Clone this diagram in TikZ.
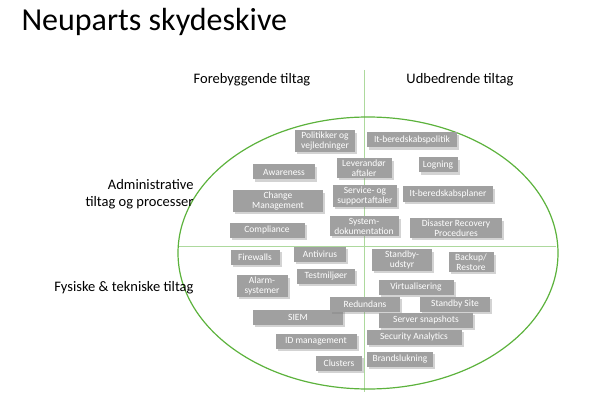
\documentclass[tikz,border=0pt]{standalone}
\usepackage{fontspec}
\setmainfont{Carlito}
\usetikzlibrary{shadows}
\definecolor{ringgreen}{RGB}{92,178,60}
\definecolor{boxgray}{RGB}{160,160,160}
\begin{document}
\begin{tikzpicture}[x=1pt,y=-1pt,
            tag/.style={fill=boxgray,text=white,font=\fontsize{9.5}{10}\selectfont,
              align=center,inner sep=1.5pt,minimum height=15pt,drop shadow={opacity=0.35}},
            axis/.style={draw=ringgreen!50,line width=0.8pt},
            head/.style={font=\fontsize{14.5}{17}\selectfont},
            ]
            \useasboundingbox (0,0) rectangle (600,409);
            \node[anchor=west,font=\fontsize{32}{34}\selectfont] (title) at (18,22) {Neuparts skydeskive};
            % quadrant lines and ring
            \coordinate (top) at (364,70);
            \coordinate (bot) at (364,392);
            \coordinate (lft) at (178,246);
            \coordinate (rgt) at (556,246);
            \draw[axis] (top) -- (bot);
            \draw[axis] (lft) -- (rgt);
            \draw[ringgreen,line width=1.2pt] (368,253) ellipse (190 and 136);
            % headings
            \node[head] (prev) at (252,80) {Forebyggende tiltag};
            \node[head] (corr) at (460,80) {Udbedrende tiltag};
            \node[head,align=right,anchor=east] (adm) at (197,194) {Administrative\\tiltag og processer};
            \node[head,anchor=east] (phys) at (197,288) {Fysiske \& tekniske tiltag};
            % administrative
            \node[tag,minimum width=60pt] (pol) at (325,141) {Politikker og\\vejledninger};
            \node[tag,minimum width=90pt] (itpol) at (412,140) {It-beredskabspolitik};
            \node[tag,minimum width=55pt] (lev) at (364,168) {Leverandør\\aftaler};
            \node[tag,minimum width=39pt] (log) at (438,165) {Logning};
            \node[tag,minimum width=62pt] (aware) at (284,172) {Awareness};
            \node[tag,minimum width=90pt] (change) at (278,201) {Change\\Management};
            \node[tag,minimum width=64pt] (serv) at (365,196) {Service- og\\supportaftaler};
            \node[tag,minimum width=90pt] (itplan) at (448,194) {It-beredskabsplaner};
            \node[tag,minimum width=75pt] (comp) at (267,230) {Compliance};
            \node[tag,minimum width=69pt] (sysdok) at (364,226) {System-\\dokumentation};
            \node[tag,minimum width=92pt] (drp) at (456,228) {Disaster Recovery\\Procedures};
            % physical and technical
            \node[tag,minimum width=49pt] (fw) at (255,257) {Firewalls};
            \node[tag,minimum width=52pt] (av) at (320,254) {Antivirus};
            \node[tag,minimum width=60pt] (sbu) at (402,260) {Standby-\\udstyr};
            \node[tag,minimum width=45pt] (backup) at (471,262) {Backup/\\Restore};
            \node[tag,minimum width=51pt] (alarm) at (262,286) {Alarm-\\systemer};
            \node[tag,minimum width=58pt] (test) at (326,276) {Testmiljøer};
            \node[tag,minimum width=75pt] (virt) at (416,287) {Virtualisering};
            \node[tag,minimum width=90pt] (siem) at (298,317) {SIEM};
            \node[tag,minimum width=70pt] (red) at (365,304) {Redundans};
            \node[tag,minimum width=70pt] (site) at (455,304) {Standby Site};
            \node[tag,minimum width=94pt] (snap) at (426,320) {Server snapshots};
            \node[tag,minimum width=95pt] (sec) at (414,337) {Security Analytics};
            \node[tag,minimum width=81pt] (idm) at (316,341) {ID management};
            \node[tag,minimum width=66pt] (fire) at (400,359) {Brandslukning};
            \node[tag,minimum width=46pt] (clus) at (339,363) {Clusters};
\end{tikzpicture}
\end{document}
